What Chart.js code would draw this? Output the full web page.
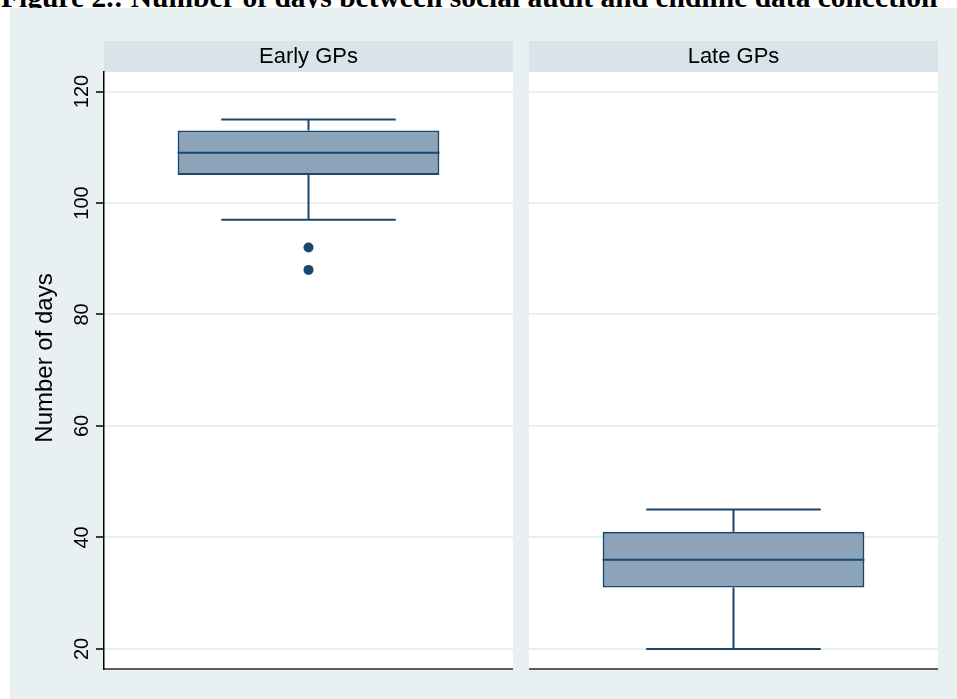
<!DOCTYPE html>
<html>
<head>
<meta charset="utf-8">
<script src="https://cdn.jsdelivr.net/npm/chart.js@4.4.1/dist/chart.umd.min.js"></script>
<style>
  html, body { margin: 0; padding: 0; width: 957px; height: 699px; overflow: hidden; background: #ffffff; }
  #caption {
    position: absolute; left: 1px; top: -17px; z-index: 0;
    font: bold 29.5px "Liberation Serif", "Times New Roman", serif; line-height: 29.5px;
    white-space: nowrap; color: #000;
  }
  #frame { position: absolute; left: 10px; top: 8px; width: 947px; height: 691px; background: #e8f0f2; z-index: 1; }
  canvas { position: absolute; top: 8px; z-index: 2; }
  #panelA { left: 10px; }
  #panelB { left: 529px; }
</style>
</head>
<body>
<div id="caption">Figure 2.: Number of days between social audit and endline data collection</div>
<div id="frame"></div>
<canvas id="panelA" width="503" height="691"></canvas>
<canvas id="panelB" width="409" height="691"></canvas>
<script>
// Box-plot summaries of days between social audit and endline survey, per GP group
const groups = ['Early GPs', 'Late GPs'];
const lowerWhisker = [97, 20];
const q1 = [105, 31];
const median = [109, 36];
const q3 = [113, 41];
const upperWhisker = [115, 45];
const outliers = [[92, 88], []];
const yTickValues = [20, 40, 60, 80, 100, 120];
const yRange = [16.4, 123.5];
const yTitle = 'Number of days';

const NAVY = '#1a476f';
const BOX_FILL = '#8da4b8';
const STRIP = '#d8e4e9';
const GRID = '#e8f0f2';
const SANS = '"Liberation Sans", Arial, sans-serif';

// Draws the white plot region, the strip header, whiskers, caps, median and the y labels
function panelPlugin(i, withAxis) {
  return {
    id: 'panelDecor' + i,
    beforeDraw(chart) {
      const { ctx, chartArea: a } = chart;
      ctx.save();
      ctx.fillStyle = '#ffffff';
      ctx.fillRect(a.left, a.top, a.right - a.left, a.bottom - a.top);
      const stripTop = 33;
      ctx.fillStyle = STRIP;
      ctx.fillRect(a.left, stripTop, a.right - a.left, a.top - stripTop);
      ctx.fillStyle = '#000';
      ctx.font = '22px ' + SANS;
      ctx.textAlign = 'center';
      ctx.textBaseline = 'alphabetic';
      ctx.fillText(groups[i], (a.left + a.right) / 2, 55);
      ctx.restore();
    },
    beforeDatasetsDraw(chart) {
      const { ctx } = chart;
      const y = chart.scales.y;
      const bar = chart.getDatasetMeta(0).data[0];
      const cx = bar.x;
      const capHalf = bar.width / 2 * 2 / 3;
      const yu = y.getPixelForValue(upperWhisker[i]);
      const yl = y.getPixelForValue(lowerWhisker[i]);
      ctx.save();
      ctx.strokeStyle = NAVY;
      ctx.lineWidth = 2;
      ctx.beginPath();
      ctx.moveTo(cx, y.getPixelForValue(q3[i]));
      ctx.lineTo(cx, yu);
      ctx.moveTo(cx, y.getPixelForValue(q1[i]));
      ctx.lineTo(cx, yl);
      ctx.moveTo(cx - capHalf, yu); ctx.lineTo(cx + capHalf, yu);
      ctx.moveTo(cx - capHalf, yl); ctx.lineTo(cx + capHalf, yl);
      ctx.stroke();
      ctx.restore();
    },
    afterDatasetsDraw(chart) {
      const { ctx } = chart;
      const y = chart.scales.y;
      const bar = chart.getDatasetMeta(0).data[0];
      const half = bar.width / 2;
      const ym = y.getPixelForValue(median[i]);
      ctx.save();
      ctx.strokeStyle = NAVY;
      ctx.lineWidth = 2;
      ctx.beginPath();
      ctx.moveTo(bar.x - half, ym);
      ctx.lineTo(bar.x + half, ym);
      ctx.stroke();
      ctx.restore();
    },
    afterDraw(chart) {
      if (!withAxis) return;
      const { ctx } = chart;
      const y = chart.scales.y;
      ctx.save();
      ctx.fillStyle = '#000';
      ctx.font = '20px ' + SANS;
      ctx.textAlign = 'center';
      ctx.textBaseline = 'alphabetic';
      y.ticks.forEach(t => {
        ctx.save();
        ctx.translate(78, y.getPixelForValue(t.value));
        ctx.rotate(-Math.PI / 2);
        ctx.fillText(String(t.value), 0, 0);
        ctx.restore();
      });
      ctx.font = '24px ' + SANS;
      ctx.translate(42, 350);
      ctx.rotate(-Math.PI / 2);
      ctx.fillText(yTitle, 0, 0);
      ctx.restore();
    }
  };
}

function makePanel(canvasId, i, withAxis) {
  return new Chart(document.getElementById(canvasId), {
    type: 'bar',
    data: {
      labels: [groups[i]],
      datasets: [
        {
          type: 'bar',
          data: [[q1[i], q3[i]]],
          backgroundColor: BOX_FILL,
          borderColor: NAVY,
          borderWidth: 2,
          borderSkipped: false,
          barPercentage: 0.64,
          categoryPercentage: 1,
          grouped: false
        },
        {
          type: 'line',
          data: outliers[i].map(v => ({ x: groups[i], y: v })),
          showLine: false,
          pointRadius: 5,
          pointBackgroundColor: NAVY,
          pointBorderWidth: 0,
          borderColor: NAVY
        }
      ]
    },
    options: {
      responsive: false,
      animation: false,
      devicePixelRatio: 1,
      layout: { autoPadding: false, padding: { top: 64, bottom: 30, left: 0, right: 0 } },
      plugins: { legend: { display: false }, tooltip: { enabled: false } },
      scales: {
        x: {
          type: 'category',
          ticks: { display: false },
          grid: { display: false },
          border: { display: true, color: '#5c5c5c', width: 2 },
          afterFit(axis) { axis.height = 0; }
        },
        y: {
          type: 'linear',
          min: yRange[0],
          max: yRange[1],
          afterBuildTicks(axis) { axis.ticks = yTickValues.map(v => ({ value: v })); },
          ticks: { display: false },
          grid: {
            color: GRID,
            lineWidth: 2,
            drawTicks: withAxis,
            tickColor: '#000',
            tickLength: 8,
            tickWidth: 1.5
          },
          border: { display: withAxis, color: '#000', width: 1.5 },
          afterFit(axis) { axis.width = withAxis ? 94 : 0; }
        }
      }
    },
    plugins: [panelPlugin(i, withAxis)]
  });
}

makePanel('panelA', 0, true);
makePanel('panelB', 1, false);
</script>
</body>
</html>
